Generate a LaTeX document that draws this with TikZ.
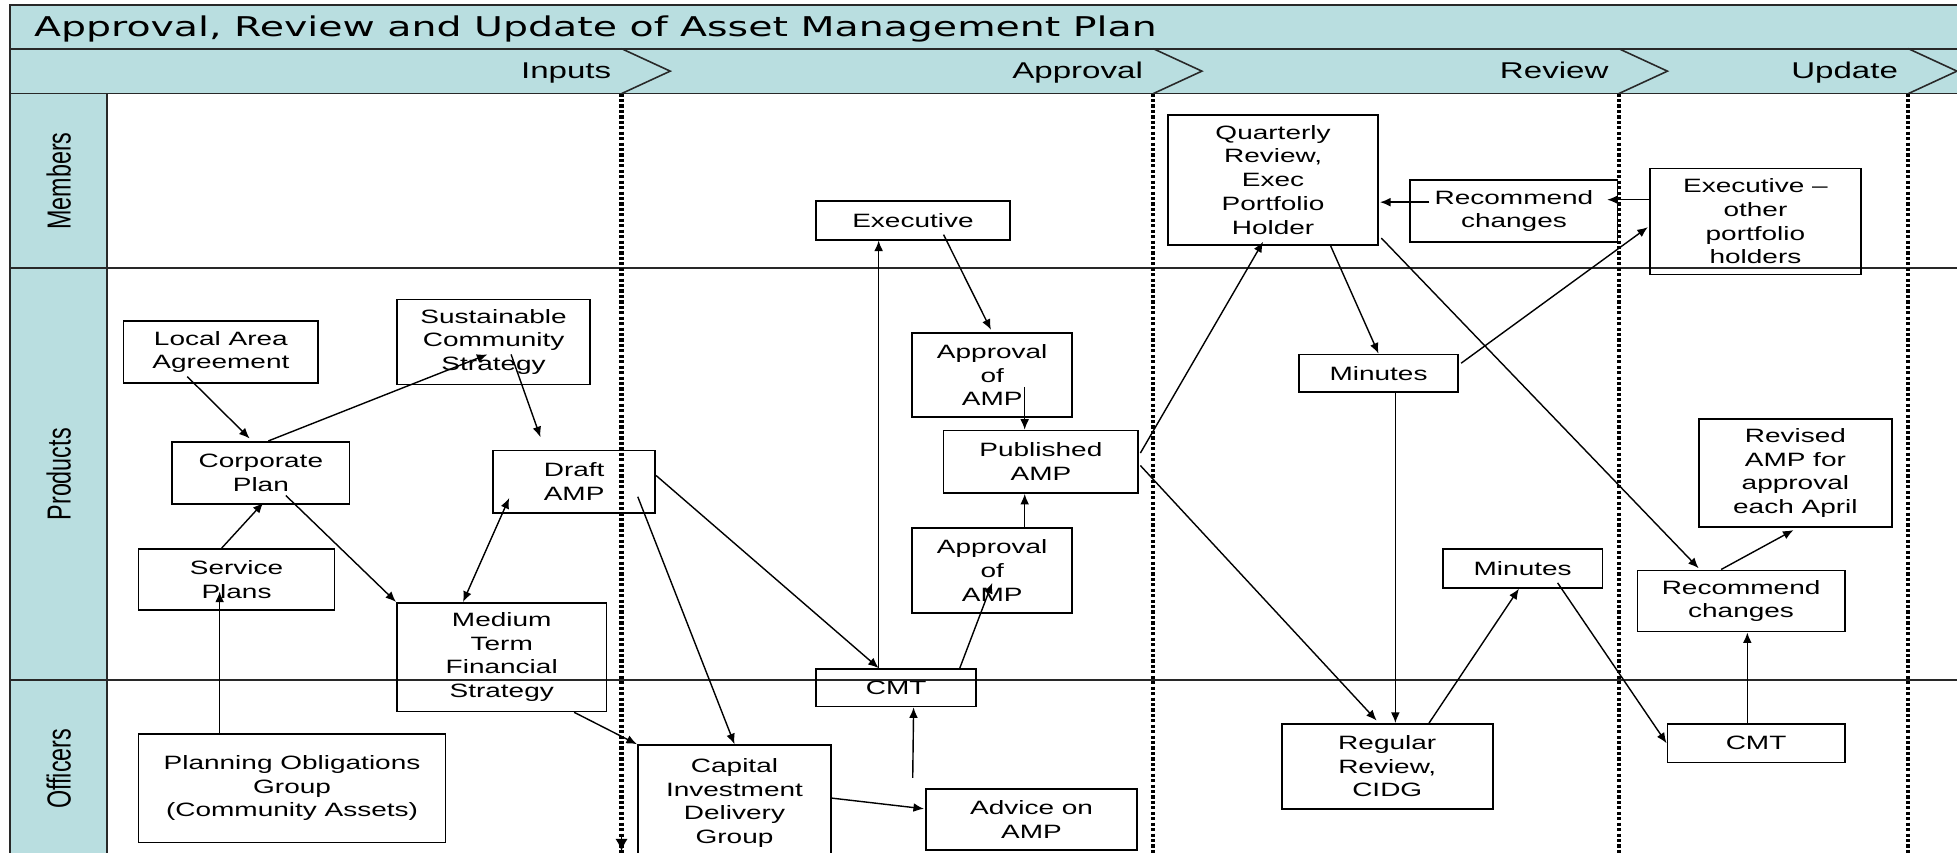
\documentclass[tikz,border=0pt]{standalone}
\usepackage{fontspec}
\setmainfont{Liberation Sans}
\newfontfamily\boxfont{Liberation Sans}[FakeStretch=1.45]
\newfontfamily\headfont{DejaVu Sans}[FakeStretch=1.45]
\newfontfamily\lanefont{Liberation Sans}[FakeStretch=0.7]
\usetikzlibrary{arrows.meta,calc}
\definecolor{lanefill}{RGB}{185,222,224}
\definecolor{framegray}{RGB}{40,40,40}

\begin{document}
\begin{tikzpicture}[x=0.025cm, y=-0.025cm,
		    box/.style={draw, line width=1pt, align=center, inner sep=1pt,
		      font=\boxfont\fontsize{11}{13.5}\selectfont},
		    sz/.style 2 args={minimum width=#1*0.025cm, minimum height=#2*0.025cm},
		    conn/.style={->, line width=0.8pt},
		    phaseline/.style={line width=2.4pt, dash pattern=on 1.8pt off 1.3pt},
		    phasetext/.style={inner sep=0pt, font=\boxfont\fontsize{13}{15}\selectfont},
		    lanetext/.style={rotate=90, inner sep=0pt, font=\lanefont\fontsize{19}{21}\selectfont},
		    >={Latex[length=6pt,width=5pt]}
		   ]

  \useasboundingbox (0,0) rectangle (1568,683);
  \clip (0,0) rectangle (1568,683);

  % swimlane frame
  \filldraw[fill=lanefill, draw=framegray, line width=1pt] (8,4) rectangle (1580,39);
  \filldraw[fill=lanefill, draw=framegray, line width=1pt] (8,39) rectangle (1580,75);
  \filldraw[fill=lanefill, draw=framegray, line width=1pt] (8,75) rectangle (86,700);
  \draw[framegray, line width=1pt] (8,215) -- (1580,215);
  \draw[framegray, line width=1pt] (8,545) -- (1580,545);

  \node[anchor=base west, inner sep=0pt, font=\headfont\fontsize{15.5}{18}\selectfont] (title) at (27,29)
    {Approval, Review and Update of Asset Management Plan};

  \node[lanetext] (members) at (47,145) {Members};
  \node[lanetext] (products) at (47,380) {Products};
  \node[lanetext] (officers) at (47,616) {Officers};

  % phases
  \foreach \px/\lbl in {498/Inputs,924/Approval,1297/Review,1529/Update}{
    \draw[framegray, line width=0.9pt] (\px,39) -- (\px+39,57) -- (\px,75);
    \draw[phaseline] (\px,75) -- (\px,690);
    \node[phasetext, anchor=base east] (ph-\lbl) at (\px-8,63) {\lbl};
  }
  \draw[line width=1pt, -{Latex[length=7pt,width=7pt]}] (498,668) -- (498,682);

  % inputs
  \node[box, sz={156}{50}] (laa) at (177,282) {Local Area\\Agreement};
  \node[box, sz={155}{68}] (scs) at (395.5,274) {Sustainable\\Community\\Strategy};
  \node[box, sz={142}{50}] (corp) at (209,379) {Corporate\\Plan};
  \node[box, sz={130}{50}] (draft) at (460,386) {Draft\\AMP};
  \node[box, sz={157}{49}] (serv) at (189.5,464.5) {Service\\Plans};
  \node[box, sz={168}{87}] (mtfs) at (402,526.5) {Medium\\Term\\Financial\\Strategy};
  \node[box, sz={246}{87}] (pog) at (234,631.5) {Planning Obligations\\Group\\(Community Assets)};

  % approval
  \node[box, sz={155}{93}] (cidg) at (588.5,643.5) {Capital\\Investment\\Delivery\\Group};
  \node[box, sz={128}{30}] (cmt1) at (718,551) {CMT};
  \node[box, sz={169}{49}] (advice) at (826.5,656.5) {Advice on\\AMP};
  \node[box, sz={155}{31}] (exec) at (731.5,176.5) {Executive};
  \node[box, sz={128}{67}] (appr1) at (795,300.5) {Approval\\of\\AMP};
  \node[box, sz={156}{50}] (pub) at (834,370) {Published\\AMP};
  \node[box, sz={128}{68}] (appr2) at (795,457) {Approval\\of\\AMP};

  % review
  \node[box, sz={168}{104}] (qrev) at (1020,144) {Quarterly\\Review,\\Exec\\Portfolio\\Holder};
  \node[box, sz={166}{50}] (rec1) at (1213,169) {Recommend\\changes};
  \node[box, sz={127}{30}] (min1) at (1104.5,299) {Minutes};
  \node[box, sz={128}{31}] (min2) at (1220,455.5) {Minutes};
  \node[box, sz={169}{68}] (rrev) at (1111.5,614) {Regular\\Review,\\CIDG};

  % update
  \node[box, sz={169}{85}] (execo) at (1406.5,177.5) {Executive –\\other\\portfolio\\holders};
  \node[box, sz={155}{86}] (revamp) at (1438.5,379) {Revised\\AMP for\\approval\\each April};
  \node[box, sz={166}{49}] (rec2) at (1395,481.5) {Recommend\\changes};
  \node[box, sz={142}{31}] (cmt2) at (1407,595.5) {CMT};

  % connectors
  \draw[conn] ($(laa.south)+(-27,-6)$) -- ($(corp.north)+(-9,-2)$);
  \draw[conn] ($(corp.north)+(6,0)$) -- ($(scs.center)+(-5,10)$);
  \draw[conn] ($(scs.center)+(14,10)$) -- ($(draft.north)+(-27,-10)$);
  \draw[conn] ($(corp.center)+(20,18)$) -- (mtfs.north west);
  \draw[conn] ($(serv.north)+(-12,0)$) -- ($(corp.south)+(2,-2)$);
  \draw[conn] ($(pog.north)+(-58,0)$) -- ($(serv.center)+(-13.5,9.5)$);
  \draw[<->, line width=0.8pt] ($(mtfs.north)+(-31,0)$) -- ($(draft.center)+(-52,13)$);
  \draw[conn] ($(draft.center)+(51,12)$) -- (cidg.north);
  \draw[conn] ($(draft.east)+(0,-5)$) -- ($(cmt1.north)+(-14,0)$);
  \draw[conn] ($(cmt1.north)+(-14,0)$) -- ($(exec.south)+(-27.5,0)$);
  \draw[conn] ($(exec.center)+(24.5,11.5)$) -- ($(appr1.north)+(-1,-2)$);
  \draw[conn] ($(appr1.center)+(26,9.5)$) -- ($(pub.north)+(-13,0)$);
  \draw[conn] ($(appr2.north)+(26,0)$) -- ($(pub.south)+(-13,0)$);
  \draw[conn] ($(cmt1.north)+(51,0)$) -- ($(appr2.center)+(0,10)$);
  \draw[conn] ($(advice.north west)+(-10,-8)$) -- ($(cmt1.south)+(14,0)$);
  \draw[conn] ($(cidg.east)+(0,-4)$) -- ($(advice.west)+(-1,-8.5)$);
  \draw[conn] ($(mtfs.south)+(58,0)$) -- (cidg.north west);
  \draw[conn] ($(pub.east)+(1,-7)$) -- ($(qrev.south)+(-8,-3)$);
  \draw[conn] ($(pub.east)+(1,3)$) -- ($(rrev.north)+(-8.5,-2)$);
  \draw[conn] ($(qrev.south)+(46,0)$) -- (min1.north);
  \draw[conn] ($(min1.south)+(13.5,0)$) -- ($(rrev.north)+(6.5,0)$);
  \draw[conn] ($(min1.east)+(2,-8)$) -- ($(execo.west)+(-1,4.5)$);
  \draw[conn] ($(execo.west)+(0,-17.5)$) -- ($(rec1.east)+(-9,-9)$);
  \draw[conn] ($(rec1.west)+(16,-7)$) -- ($(qrev.east)+(1,18)$);
  \draw[conn] ($(qrev.south east)+(2,-6)$) -- ($(rec2.north)+(-34,-1)$);
  \draw[conn] ($(rec2.north)+(-16,0)$) -- ($(revamp.south)+(-1.5,2)$);
  \draw[conn] ($(min2.center)+(28,11.5)$) -- (cmt2.west);
  \draw[conn] ($(rrev.north)+(33.5,0)$) -- ($(min2.south)+(-3,0)$);
  \draw[conn] ($(cmt2.north)+(-7,0)$) -- ($(rec2.south)+(5,0)$);
\end{tikzpicture}
\end{document}
